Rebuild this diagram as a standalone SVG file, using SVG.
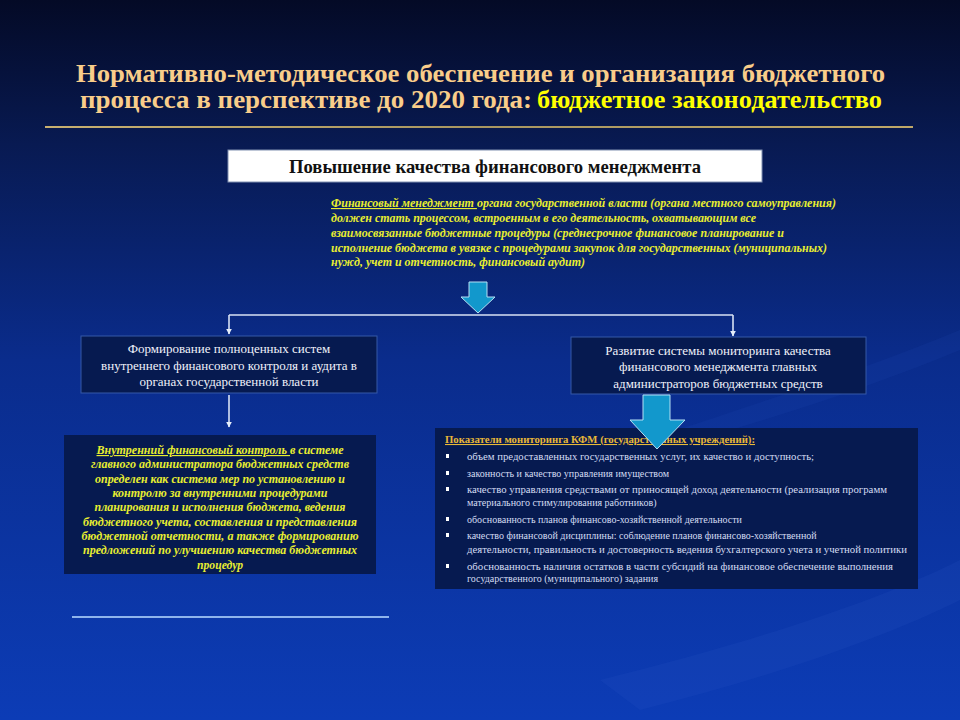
<svg xmlns="http://www.w3.org/2000/svg" width="960" height="720" viewBox="0 0 960 720">
<defs>
<linearGradient id="bg" x1="0" y1="0" x2="0" y2="1">
<stop offset="0" stop-color="#040a26"/>
<stop offset="0.2" stop-color="#081a52"/>
<stop offset="0.5" stop-color="#0a2c8c"/>
<stop offset="1" stop-color="#0c3cb6"/>
</linearGradient>
<linearGradient id="rule" x1="0" y1="0" x2="1" y2="0">
<stop offset="0" stop-color="#c8b070"/>
<stop offset="0.5" stop-color="#a89660"/>
<stop offset="1" stop-color="#c0a868"/>
</linearGradient>
<marker id="ah" viewBox="0 0 10 10" refX="9" refY="5" markerWidth="6" markerHeight="6" orient="auto" markerUnits="userSpaceOnUse">
<path d="M0,0 L10,5 L0,10 z" fill="#e6eefa"/>
</marker>
<style>
.title{font-weight:bold;font-size:25px;fill:#f9cd8a}
.yel{fill:#ffff00}
.box{fill:#061a50;stroke:#3558a8;stroke-width:1}
.wt{font-size:13px;fill:#f0f2fa;text-anchor:middle}
.it{font-size:11.5px;font-style:italic;font-weight:bold;fill:#e8ee30}
.itc{text-anchor:middle}
.ul{text-decoration:underline}
.li{font-size:10px;fill:#d4dcf2}
.hd{font-size:10.5px;font-weight:bold;fill:#e8b838;text-decoration:underline}
.conn{stroke:#d8e2f4;stroke-width:1.6;fill:none}
.barrow{fill:#1298cc;stroke:#b4e0f4;stroke-width:1}
.bul{fill:#ffffff}
</style>
</defs>
<rect width="960" height="720" fill="url(#bg)"/>
<path d="M560,470 C700,420 840,380 960,330 L960,350 C840,400 700,440 560,480 z" fill="#2a55c0" opacity="0.12"/>
<path d="M600,680 C760,640 880,600 960,560 L960,600 C880,640 760,680 640,710 z" fill="#3a66d0" opacity="0.12"/>

<g id="title" font-family="Liberation Serif, serif">
<text class="title" x="76" y="82" textLength="809" lengthAdjust="spacingAndGlyphs">Нормативно-методическое обеспечение и организация бюджетного</text>
<text class="title" x="80" y="108" textLength="452" lengthAdjust="spacingAndGlyphs">процесса в перспективе до 2020 года:</text>
<text class="title yel" x="537" y="108" textLength="345" lengthAdjust="spacingAndGlyphs">бюджетное законодательство</text>
<rect x="45" y="126" width="868" height="2" fill="url(#rule)"/>
</g>

<g id="connectors">
<path class="conn" d="M229,315 L733,315"/>
<path class="conn" d="M229,315 L229,334" marker-end="url(#ah)"/>
<path class="conn" d="M733,315 L733,336" marker-end="url(#ah)"/>
<path class="conn" d="M229,395 L229,427" marker-end="url(#ah)"/>
</g>

<g id="node-top" font-family="Liberation Serif, serif">
<rect x="228" y="150" width="534" height="32" fill="#ffffff" stroke="#8090b0" stroke-width="1"/>
<text x="495" y="173" text-anchor="middle" font-weight="bold" font-size="19" fill="#111111" textLength="412" lengthAdjust="spacingAndGlyphs">Повышение качества финансового менеджмента</text>
</g>

<g id="node-desc" font-family="Liberation Serif, serif">
<text class="it" x="331" y="207" textLength="505" lengthAdjust="spacingAndGlyphs"><tspan class="ul">Финансовый менеджмент </tspan>органа государственной власти (органа местного самоуправления)</text>
<text class="it" x="331" y="222" textLength="425" lengthAdjust="spacingAndGlyphs">должен стать процессом, встроенным в его деятельность, охватывающим все</text>
<text class="it" x="331" y="237" textLength="453" lengthAdjust="spacingAndGlyphs">взаимосвязанные бюджетные процедуры (среднесрочное финансовое планирование и</text>
<text class="it" x="331" y="252" textLength="496" lengthAdjust="spacingAndGlyphs">исполнение бюджета в увязке с процедурами закупок для государственных (муниципальных)</text>
<text class="it" x="331" y="266" textLength="254" lengthAdjust="spacingAndGlyphs">нужд, учет и отчетность, финансовый аудит)</text>
</g>

<g id="arrow-top">
<path class="barrow" d="M469,282 L487,282 L487,297 L495,297 L478,313 L461,297 L469,297 z"/>
</g>

<g id="node-left" font-family="Liberation Serif, serif">
<rect class="box" x="81" y="336" width="296" height="57"/>
<text class="wt" x="229" y="353">Формирование полноценных систем</text>
<text class="wt" x="229" y="370">внутреннего финансового контроля и аудита в</text>
<text class="wt" x="229" y="386">органах государственной власти</text>
</g>

<g id="node-right" font-family="Liberation Serif, serif">
<rect class="box" x="571" y="337" width="295" height="57"/>
<text class="wt" x="718" y="355">Развитие системы мониторинга качества</text>
<text class="wt" x="718" y="371">финансового менеджмента главных</text>
<text class="wt" x="718" y="388">администраторов бюджетных средств</text>
</g>

<g id="node-control" font-family="Liberation Serif, serif">
<rect x="64" y="435" width="312" height="139" fill="#061a50"/>
<text class="it itc" x="220" y="454" textLength="247" lengthAdjust="spacingAndGlyphs"><tspan class="ul">Внутренний финансовый контроль </tspan>в системе</text>
<text class="it itc" x="220" y="468" textLength="258" lengthAdjust="spacingAndGlyphs">главного администратора бюджетных средств</text>
<text class="it itc" x="220" y="483" textLength="250" lengthAdjust="spacingAndGlyphs">определен как система мер по установлению и</text>
<text class="it itc" x="220" y="497" textLength="215" lengthAdjust="spacingAndGlyphs">контролю за внутренними процедурами</text>
<text class="it itc" x="220" y="511" textLength="251" lengthAdjust="spacingAndGlyphs">планирования и исполнения бюджета, ведения</text>
<text class="it itc" x="220" y="526" textLength="274" lengthAdjust="spacingAndGlyphs">бюджетного учета, составления и представления</text>
<text class="it itc" x="220" y="540" textLength="277" lengthAdjust="spacingAndGlyphs">бюджетной отчетности, а также формированию</text>
<text class="it itc" x="220" y="554" textLength="274" lengthAdjust="spacingAndGlyphs">предложений по улучшению качества бюджетных</text>
<text class="it itc" x="220" y="569" textLength="46" lengthAdjust="spacingAndGlyphs">процедур</text>
</g>

<g id="divider">
<rect x="72" y="616" width="317" height="2" fill="#8fb4ec"/>
</g>

<g id="node-indicators" font-family="Liberation Serif, serif">
<rect x="435" y="428" width="483" height="161" fill="#061a50"/>
<text class="hd" x="445" y="443" textLength="310" lengthAdjust="spacingAndGlyphs">Показатели мониторинга КФМ (государственных учреждений):</text>
<rect class="bul" x="446" y="454" width="3" height="4"/>
<text class="li" x="467" y="460" textLength="347" lengthAdjust="spacingAndGlyphs">объем предоставленных государственных услуг, их качество и доступность;</text>
<rect class="bul" x="446" y="471" width="3" height="4"/>
<text class="li" x="467" y="477">законность и качество управления имуществом</text>
<rect class="bul" x="446" y="487" width="3" height="4"/>
<text class="li" x="467" y="493" textLength="420" lengthAdjust="spacingAndGlyphs">качество управления средствами от приносящей доход деятельности (реализация программ</text>
<text class="li" x="467" y="506">материального стимулирования работников)</text>
<rect class="bul" x="446" y="517" width="3" height="4"/>
<text class="li" x="467" y="523">обоснованность планов финансово-хозяйственной деятельности</text>
<rect class="bul" x="446" y="533" width="3" height="4"/>
<text class="li" x="467" y="539">качество финансовой дисциплины: соблюдение планов финансово-хозяйственной</text>
<text class="li" x="467" y="553" textLength="440" lengthAdjust="spacingAndGlyphs">деятельности, правильность и достоверность ведения бухгалтерского учета и учетной политики</text>
<rect class="bul" x="446" y="564" width="3" height="4"/>
<text class="li" x="467" y="570" textLength="426" lengthAdjust="spacingAndGlyphs">обоснованность наличия остатков в части субсидий на финансовое обеспечение выполнения</text>
<text class="li" x="467" y="582">государственного (муниципального) задания</text>
</g>

<g id="arrow-big">
<path class="barrow" d="M643,395 L670,395 L670,420 L685,420 L657,449 L630,420 L643,420 z"/>
</g>
</svg>
